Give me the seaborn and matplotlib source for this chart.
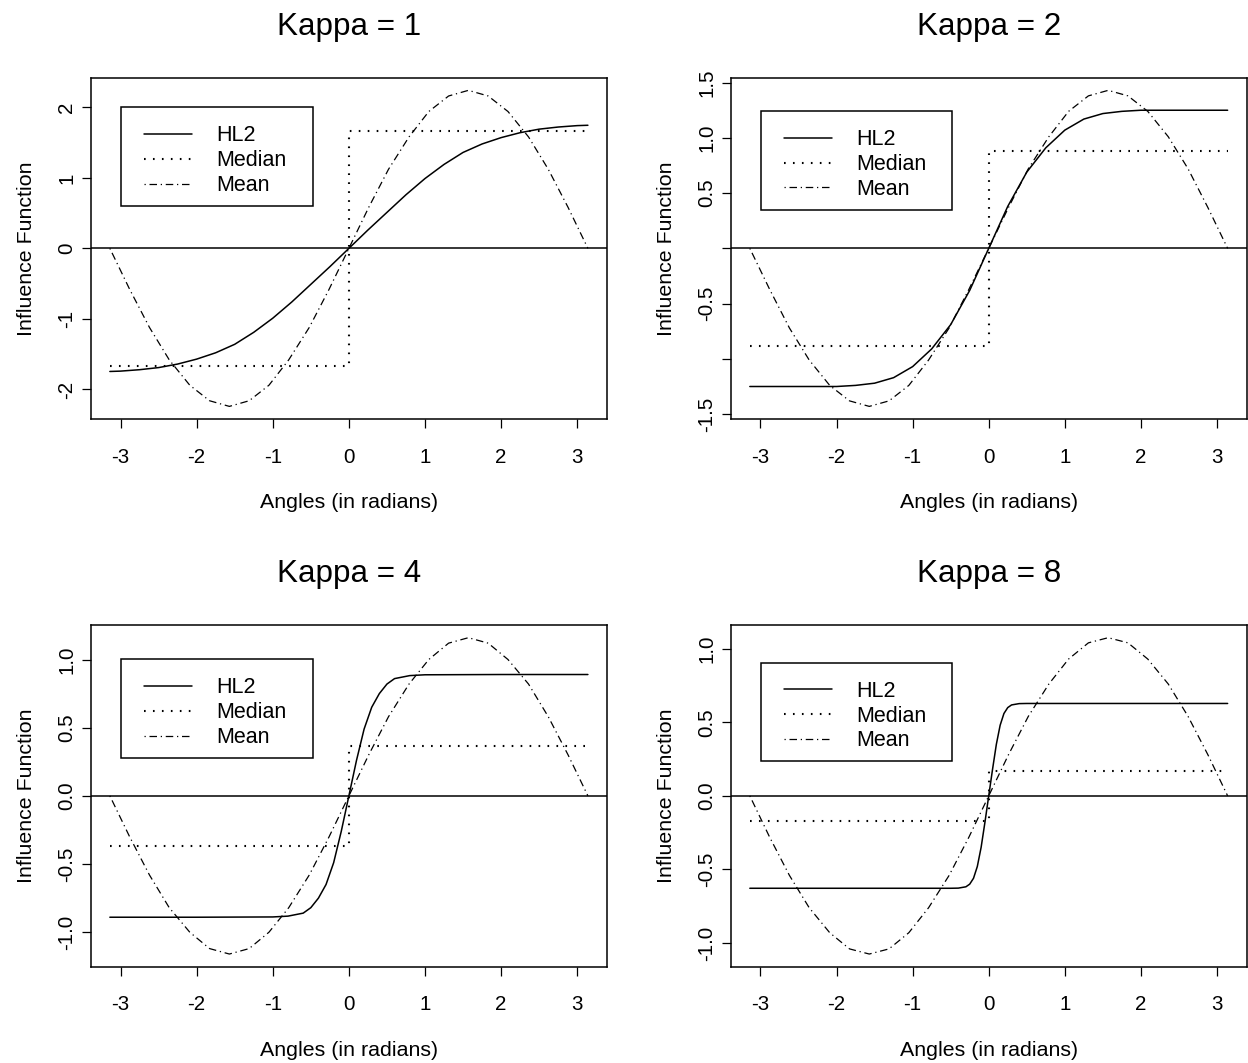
import seaborn as sns
import matplotlib.pyplot as plt
from matplotlib.lines import Line2D
from matplotlib.patches import Rectangle

# values
kappas = [1, 2, 4, 8]

x_mean = [-3.14, -2.88, -2.62, -2.36, -2.09, -1.83, -1.57, -1.31, -1.05, -0.79, -0.52, -0.26, 0.0,
          0.26, 0.52, 0.79, 1.05, 1.31, 1.57, 1.83, 2.09, 2.36, 2.62, 2.88, 3.14]
mean_k1 = [0.0, -0.58, -1.12, -1.58, -1.94, -2.16, -2.24, -2.16, -1.94, -1.58, -1.12, -0.58, 0.0,
           0.58, 1.12, 1.58, 1.94, 2.16, 2.24, 2.16, 1.94, 1.58, 1.12, 0.58, 0.0]
mean_k2 = [0.0, -0.37, -0.72, -1.01, -1.24, -1.38, -1.43, -1.38, -1.24, -1.01, -0.72, -0.37, 0.0,
           0.37, 0.72, 1.01, 1.24, 1.38, 1.43, 1.38, 1.24, 1.01, 0.72, 0.37, 0.0]
mean_k4 = [0.0, -0.30, -0.58, -0.82, -1.00, -1.12, -1.16, -1.12, -1.00, -0.82, -0.58, -0.30, 0.0,
           0.30, 0.58, 0.82, 1.00, 1.12, 1.16, 1.12, 1.00, 0.82, 0.58, 0.30, 0.0]
mean_k8 = [0.0, -0.28, -0.54, -0.76, -0.93, -1.04, -1.075, -1.04, -0.93, -0.76, -0.54, -0.28, 0.0,
           0.28, 0.54, 0.76, 0.93, 1.04, 1.075, 1.04, 0.93, 0.76, 0.54, 0.28, 0.0]

x_hl2_k1 = [-3.14, -3.0, -2.75, -2.5, -2.25, -2.0, -1.75, -1.5, -1.25, -1.0, -0.75, -0.5, -0.25, 0.0,
            0.25, 0.5, 0.75, 1.0, 1.25, 1.5, 1.75, 2.0, 2.25, 2.5, 2.75, 3.0, 3.14]
hl2_k1 = [-1.745, -1.74, -1.72, -1.69, -1.64, -1.57, -1.48, -1.36, -1.19, -0.99, -0.76, -0.51, -0.26, 0.0,
          0.26, 0.51, 0.76, 0.99, 1.19, 1.36, 1.48, 1.57, 1.64, 1.69, 1.72, 1.74, 1.745]

x_hl2_k2 = [-3.14, -2.5, -2.0, -1.75, -1.5, -1.25, -1.0, -0.75, -0.5, -0.25, 0.0,
            0.25, 0.5, 0.75, 1.0, 1.25, 1.5, 1.75, 2.0, 2.5, 3.14]
hl2_k2 = [-1.25, -1.25, -1.25, -1.24, -1.22, -1.17, -1.07, -0.91, -0.69, -0.38, 0.0,
          0.38, 0.69, 0.91, 1.07, 1.17, 1.22, 1.24, 1.25, 1.25, 1.25]

x_hl2_k4 = [-3.14, -2.0, -1.0, -0.8, -0.6, -0.5, -0.4, -0.3, -0.2, -0.1, 0.0,
            0.1, 0.2, 0.3, 0.4, 0.5, 0.6, 0.8, 1.0, 2.0, 3.14]
hl2_k4 = [-0.89, -0.89, -0.888, -0.882, -0.86, -0.82, -0.75, -0.65, -0.49, -0.26, 0.0,
          0.26, 0.49, 0.65, 0.75, 0.82, 0.86, 0.882, 0.888, 0.89, 0.89]

x_hl2_k8 = [-3.14, -1.0, -0.5, -0.4, -0.3, -0.25, -0.2, -0.15, -0.1, -0.05, 0.0,
            0.05, 0.1, 0.15, 0.2, 0.25, 0.3, 0.4, 0.5, 1.0, 3.14]
hl2_k8 = [-0.628, -0.628, -0.628, -0.627, -0.618, -0.60, -0.56, -0.48, -0.35, -0.18, 0.0,
          0.18, 0.35, 0.48, 0.56, 0.60, 0.618, 0.627, 0.628, 0.628, 0.628]

x_median = [-3.14, 0.0, 0.0, 3.14]
median_k1 = [-1.67, -1.67, 1.67, 1.67]
median_k2 = [-0.88, -0.88, 0.88, 0.88]
median_k4 = [-0.365, -0.365, 0.365, 0.365]
median_k8 = [-0.169, -0.169, 0.169, 0.169]

x_ticks = [-3, -2, -1, 0, 1, 2, 3]
y_ticks = [[-2, -1, 0, 1, 2],
           [-1.5, -1.0, -0.5, 0.0, 0.5, 1.0, 1.5],
           [-1.0, -0.5, 0.0, 0.5, 1.0],
           [-1.0, -0.5, 0.0, 0.5, 1.0]]
y_labels = [["-2", "-1", "0", "1", "2"],
            ["-1.5", "", "-0.5", "", "0.5", "1.0", "1.5"],
            ["-1.0", "-0.5", "0.0", "0.5", "1.0"],
            ["-1.0", "-0.5", "0.0", "0.5", "1.0"]]

panels = [
    (x_hl2_k1, hl2_k1, median_k1, mean_k1),
    (x_hl2_k2, hl2_k2, median_k2, mean_k2),
    (x_hl2_k4, hl2_k4, median_k4, mean_k4),
    (x_hl2_k8, hl2_k8, median_k8, mean_k8),
]

sns.set_style("ticks")
plt.rcParams['font.family'] = ['Liberation Sans', 'DejaVu Sans']
plt.rcParams['axes.edgecolor'] = 'black'
plt.rcParams['text.color'] = 'black'
plt.rcParams['axes.labelcolor'] = 'black'

fig = plt.figure(figsize=(12.48, 10.63), dpi=100)
rects = [[0.0727, 0.6058, 0.4137, 0.3211],
         [0.5855, 0.6058, 0.4135, 0.3211],
         [0.0727, 0.0906, 0.4137, 0.3214],
         [0.5855, 0.0906, 0.4135, 0.3214]]
# legend box top edge, in axes fraction
legend_top = [0.913, 0.902, 0.900, 0.890]

dot = (0.8, 3.5)
dotdash = (1, 3, 6, 3)

for i, (xh, hl2, med, mean) in enumerate(panels):
    ax = fig.add_axes(rects[i])
    sns.lineplot(x=xh, y=hl2, ax=ax, color='black', lw=1.1, sort=False, estimator=None)
    sns.lineplot(x=x_median, y=med, ax=ax, color='black', lw=1.5, sort=False, estimator=None)
    ax.lines[-1].set_dashes(dot)
    sns.lineplot(x=x_mean, y=mean, ax=ax, color='black', lw=0.9, sort=False, estimator=None)
    ax.lines[-1].set_dashes(dotdash)
    ax.margins(0.04)
    ax.axhline(0, color='black', lw=1.1)

    ax.set_xticks(x_ticks)
    ax.set_xticklabels([str(t) for t in x_ticks])
    ax.set_yticks(y_ticks[i])
    ax.set_yticklabels(y_labels[i], rotation=90, va='center')
    ax.tick_params(axis='both', direction='out', length=6.5, width=0.9, labelsize=14.8, colors='black')
    ax.tick_params(axis='x', pad=14)
    ax.tick_params(axis='y', pad=4)
    for s in ax.spines.values():
        s.set_linewidth(1.1)
        s.set_color('black')

    ax.set_xlabel("Angles (in radians)", fontsize=15.4, labelpad=19)
    ax.set_ylabel("Influence Function", fontsize=15.4, labelpad=15)
    ax.set_title(f"Kappa = {kappas[i]}", fontsize=22.6, pad=31)

    # legend frame, then the legend entries inside it
    top = legend_top[i]
    ax.add_patch(Rectangle((0.0587, top - 0.289), 0.371, 0.289, transform=ax.transAxes,
                           facecolor='white', edgecolor='black', lw=1.1, zorder=4.9))
    handles = [Line2D([], [], color='black', lw=1.1),
               Line2D([], [], color='black', lw=1.5, dashes=dot),
               Line2D([], [], color='black', lw=0.9, dashes=dotdash)]
    ax.legend(handles, ["HL2", "Median", "Mean"], loc='upper left',
              bbox_to_anchor=(0.103, top - 0.053), borderaxespad=0, borderpad=0,
              fontsize=15.5, frameon=False, handlelength=2.25, handletextpad=1.1,
              labelspacing=0.18)

fig.savefig("out.png", dpi=100)
